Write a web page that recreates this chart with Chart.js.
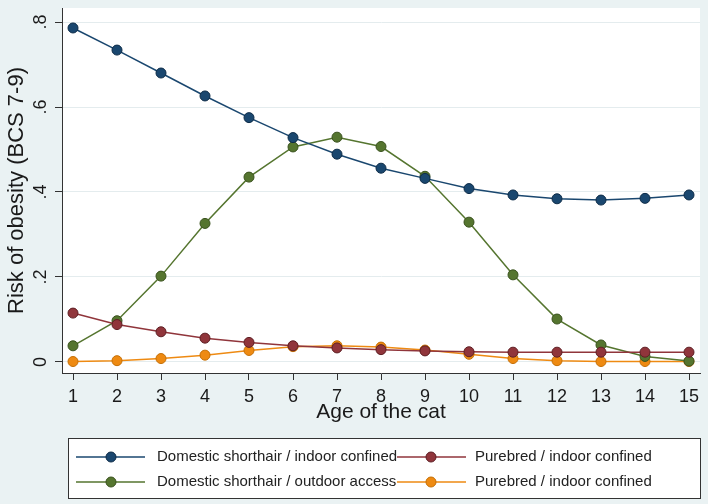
<!DOCTYPE html>
<html>
<head>
<meta charset="utf-8">
<script src="https://cdn.jsdelivr.net/npm/chart.js@4.4.0/dist/chart.umd.min.js"></script>
<style>
  html, body { margin: 0; padding: 0; background: #eaf2f3; }
  #wrap { width: 708px; height: 504px; }
</style>
</head>
<body>
<div id="wrap"><canvas id="myChart" width="708" height="504"></canvas></div>
<script>
// Data
var ages = [1, 2, 3, 4, 5, 6, 7, 8, 9, 10, 11, 12, 13, 14, 15];
var dshIndoor = [0.786, 0.734, 0.680, 0.626, 0.575, 0.528, 0.489, 0.456, 0.432, 0.408, 0.393, 0.384, 0.381, 0.385, 0.393];
var pureIndoorRed = [0.115, 0.088, 0.071, 0.056, 0.046, 0.038, 0.033, 0.029, 0.026, 0.024, 0.023, 0.023, 0.023, 0.023, 0.023];
var dshOutdoor = [0.038, 0.097, 0.202, 0.326, 0.435, 0.506, 0.529, 0.507, 0.437, 0.329, 0.205, 0.101, 0.040, 0.013, 0.002];
var pureIndoorOrange = [0.001, 0.003, 0.008, 0.016, 0.027, 0.036, 0.038, 0.035, 0.028, 0.018, 0.008, 0.003, 0.001, 0.001, 0.001];
var yTicks = [0, 0.2, 0.4, 0.6, 0.8];
var yTickLabels = ["0", ".2", ".4", ".6", ".8"];

var FONT = "'Liberation Sans', Arial, sans-serif";

function points(arr) {
    return ages.map(function (a, i) { return { x: a, y: arr[i] }; });
}

function series(label, arr, color, edge) {
    return {
        label: label,
        data: points(arr),
        borderColor: color,
        backgroundColor: color,
        borderWidth: 1.5,
        pointRadius: 5,
        pointBorderWidth: 1,
        pointBorderColor: edge,
        pointBackgroundColor: color,
        tension: 0,
    };
}

// Background: light outer area, white plot region
var backgroundPlugin = {
    id: "background",
    beforeDraw: function (chart) {
        var ctx = chart.ctx, a = chart.chartArea;
        ctx.save();
        ctx.fillStyle = "#eaf2f3";
        ctx.fillRect(0, 0, chart.width, chart.height);
        ctx.fillStyle = "#ffffff";
        ctx.fillRect(a.left, a.top, a.right - a.left, a.bottom - a.top);
        ctx.restore();
    },
};

// Rotated y tick labels (Stata style)
var yLabelPlugin = {
    id: "yLabels",
    afterDraw: function (chart) {
        var ctx = chart.ctx, y = chart.scales.y;
        ctx.save();
        ctx.font = "18px " + FONT;
        ctx.fillStyle = "#1a1a1a";
        ctx.textAlign = "center";
        ctx.textBaseline = "middle";
        yTicks.forEach(function (v, i) {
            ctx.save();
            ctx.translate(41, y.getPixelForValue(v));
            ctx.rotate(-Math.PI / 2);
            ctx.fillText(yTickLabels[i], 0, 0);
            ctx.restore();
        });
        ctx.restore();
    },
};

// Boxed two-column legend below the axis title
var legendPlugin = {
    id: "boxLegend",
    afterDraw: function (chart) {
        var ctx = chart.ctx;
        var cols = [{ l0: 76, l1: 145, m: 111, t: 157 }, { l0: 397, l1: 466, m: 431, t: 475 }];
        var rows = [457, 482];
        ctx.save();
        ctx.fillStyle = "#ffffff";
        ctx.fillRect(68, 438, 632, 60);
        ctx.strokeStyle = "#333";
        ctx.lineWidth = 1;
        ctx.strokeRect(68.5, 438.5, 632, 60);
        ctx.font = "15px " + FONT;
        ctx.textBaseline = "middle";
        chart.data.datasets.forEach(function (ds, i) {
            var c = cols[i % 2], y = rows[Math.floor(i / 2)];
            ctx.strokeStyle = ds.borderColor;
            ctx.lineWidth = 1.5;
            ctx.beginPath();
            ctx.moveTo(c.l0, y);
            ctx.lineTo(c.l1, y);
            ctx.stroke();
            ctx.beginPath();
            ctx.arc(c.m, y, 5, 0, Math.PI * 2);
            ctx.fillStyle = ds.pointBackgroundColor;
            ctx.fill();
            ctx.lineWidth = 1;
            ctx.strokeStyle = ds.pointBorderColor;
            ctx.stroke();
            ctx.fillStyle = "#222";
            ctx.fillText(ds.label, c.t, y);
        });
        ctx.restore();
    },
};

var ctx = document.getElementById("myChart").getContext("2d");
var obesityChart = new Chart(ctx, {
    type: "line",
    data: {
        datasets: [
            series("Domestic shorthair / indoor confined", dshIndoor, "#1a476f", "#0e2c48"),
            series("Purebred / indoor confined", pureIndoorRed, "#90353b", "#5e1f24"),
            series("Domestic shorthair / outdoor access", dshOutdoor, "#55752f", "#3a521e"),
            series("Purebred / indoor confined", pureIndoorOrange, "#ee8a12", "#c56f05"),
        ],
    },
    options: {
        responsive: false,
        animation: false,
        layout: { padding: { top: 8, right: 8, left: 0, bottom: 79 } },
        plugins: { legend: { display: false }, tooltip: { enabled: false } },
        scales: {
            x: {
                type: "linear",
                min: 0.75,
                max: 15.25,
                afterBuildTicks: function (s) { s.ticks = ages.map(function (v) { return { value: v }; }); },
                afterFit: function (s) { s.height = 52; },
                grid: { drawOnChartArea: false, tickColor: "#333", tickLength: 7 },
                border: { color: "#333", width: 1 },
                ticks: { font: { size: 18, family: FONT }, color: "#1a1a1a", padding: 6, maxRotation: 0 },
                title: { display: true, text: "Age of the cat", font: { size: 21, family: FONT }, color: "#1a1a1a", padding: { top: 0, bottom: 0 } },
            },
            y: {
                min: -0.026,
                max: 0.833,
                afterBuildTicks: function (s) { s.ticks = yTicks.map(function (v) { return { value: v }; }); },
                afterFit: function (s) { s.width = 62; },
                grid: { color: "#e4ecee", tickColor: "#333", tickLength: 7 },
                border: { color: "#333", width: 1 },
                ticks: { display: false },
                title: { display: true, text: "Risk of obesity (BCS 7-9)", font: { size: 22, family: FONT }, color: "#1a1a1a", padding: { top: 4, bottom: 4 } },
            },
        },
    },
    plugins: [backgroundPlugin, yLabelPlugin, legendPlugin],
});
</script>
</body>
</html>
